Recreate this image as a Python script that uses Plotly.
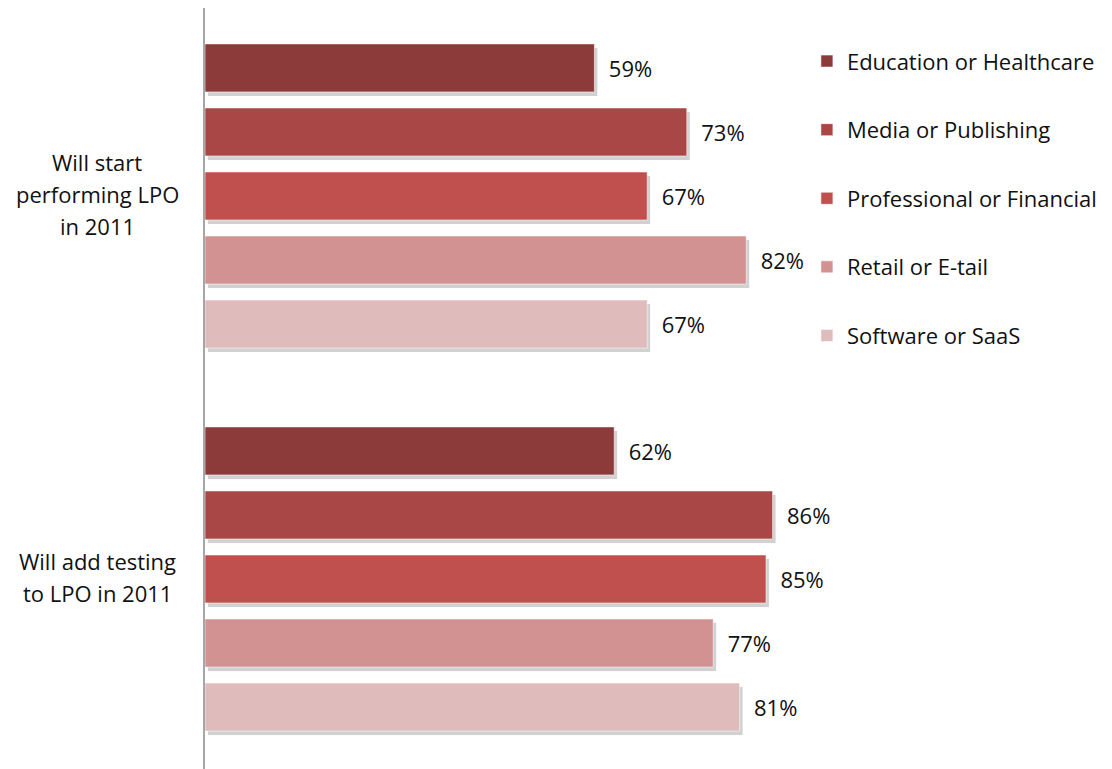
import plotly.graph_objects as go

categories = ["Will start performing LPO in 2011", "Will add testing to LPO in 2011"]
category_lines = [["Will start", "performing LPO", "in 2011"], ["Will add testing", "to LPO in 2011"]]
series_names = ["Education or Healthcare", "Media or Publishing", "Professional or Financial",
                "Retail or E-tail", "Software or SaaS"]
education = [59, 62]
media = [73, 86]
professional = [67, 85]
retail = [82, 77]
software = [67, 81]
series_values = [education, media, professional, retail, software]
colors = ["#8C3A3A", "#A84746", "#C0504D", "#D19291", "#E0BBBB"]

FONT = "Open Sans"
FS = 22
W, HT = 1104, 761
fig = go.Figure()

# drop shadows (primary axes, range shifted a few px)
for name, vals in zip(series_names, series_values):
    fig.add_trace(go.Bar(
        y=categories, x=vals, base=0.45, orientation="h", name=name,
        marker=dict(color="rgba(0,0,0,0.18)", line=dict(width=0)),
        showlegend=False, hoverinfo="skip", xaxis="x", yaxis="y",
    ))

# main bars
for i, (name, vals, col) in enumerate(zip(series_names, series_values, colors)):
    fig.add_trace(go.Bar(
        y=categories, x=vals, orientation="h", name=name,
        marker=dict(color=col, line=dict(color="rgba(255,255,255,0.55)", width=1)),
        text=[f"\u00a0\u00a0{v}%" for v in vals], textposition="outside",
        textfont=dict(family=FONT, size=FS, color="#111111"),
        cliponaxis=False, legendgroup=f"g{i}",
        xaxis="x2", yaxis="y2",
    ))

pitch = 383.0
top_val = -188.0 / pitch
bot_val = top_val + HT / pitch
d = 4.0 / pitch
annotations = []
for cat, lines in zip(categories, category_lines):
    n = len(lines)
    for j, line in enumerate(lines):
        annotations.append(dict(
            x=-0.1636, xref="paper", y=cat, yref="y2", text=line, showarrow=False,
            xanchor="center", yanchor="middle", yshift=-(j - (n - 1) / 2) * 32 + 2,
            font=dict(family=FONT, size=FS, color="#111111"),
        ))

fig.update_layout(
    width=W, height=HT,
    margin=dict(l=197, r=247, t=0, b=0, autoexpand=False),
    paper_bgcolor="white", plot_bgcolor="white",
    barmode="group", bargap=0.164, bargroupgap=0.25,
    showlegend=True,
    legend=dict(x=0.912, xanchor="left", y=0.9576, yanchor="top",
                font=dict(family=FONT, size=FS, color="#111111"),
                traceorder="grouped", tracegroupgap=37, bgcolor="rgba(0,0,0,0)"),
    xaxis=dict(range=[0, 100], visible=False),
    yaxis=dict(type="category", categoryorder="array", categoryarray=categories,
               range=[bot_val - d, top_val - d], showticklabels=False, ticks="",
               showgrid=False, zeroline=False,
               showline=True, linecolor="#A6A6A6", linewidth=2),
    xaxis2=dict(range=[0, 100], overlaying="x", visible=False),
    yaxis2=dict(type="category", categoryorder="array", categoryarray=categories,
                range=[bot_val, top_val], overlaying="y", showticklabels=False, ticks="",
                showgrid=False, zeroline=False, showline=False),
    annotations=annotations,
    font=dict(family=FONT),
)

fig.write_html("out.html")
